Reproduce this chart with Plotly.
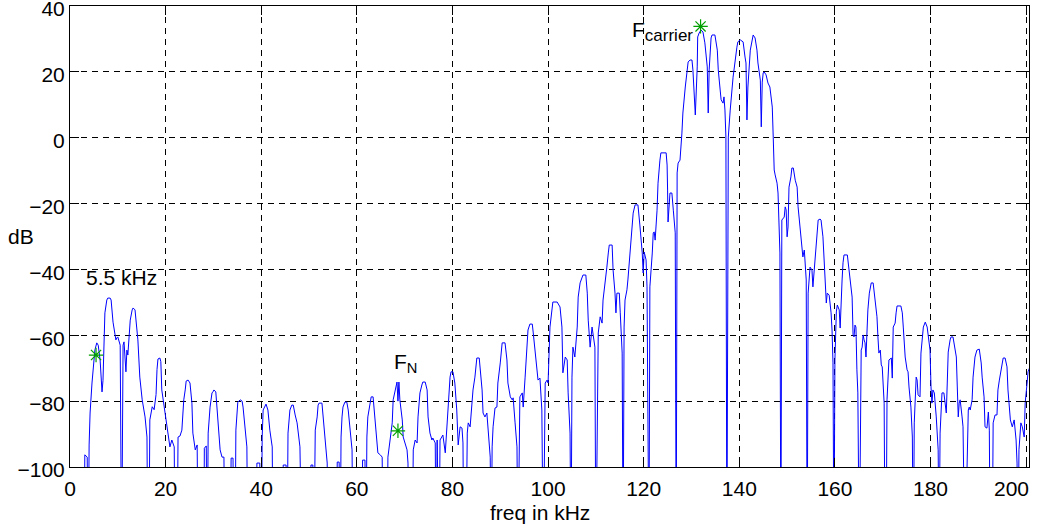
import plotly.graph_objects as go

# spectrum: (freq kHz, level dB); -130 = dip below the axis
low_band = [
    (2.9, -130), (3.1, -96.3), (3.6, -97.0), (3.7, -130), (3.8, -130), (4.0, -93.3), (4.2, -83.6),
    (4.6, -74.5), (5.0, -67.5), (5.2, -64.5), (5.6, -62.3), (5.9, -63.0), (6.3, -67.5), (6.7, -77.2),
    (6.9, -73.7), (7.1, -63.0), (7.3, -53.2), (7.7, -49.3), (7.9, -48.7), (8.4, -48.7), (8.6, -49.3),
    (9.0, -56.0), (9.4, -60.8), (9.6, -61.4), (9.8, -60.8), (10.0, -60.5), (10.5, -63.0), (10.8, -130),
    (11.1, -63.0), (11.3, -62.0), (11.7, -71.1), (11.9, -64.5), (12.1, -66.0), (12.6, -55.4),
    (13.0, -52.3), (13.2, -51.7), (13.6, -52.3), (13.8, -54.7), (14.2, -61.4), (14.6, -72.7),
    (15.1, -79.6), (15.7, -84.8), (16.1, -90.9), (16.3, -130), (16.5, -130), (16.7, -85.7),
    (17.2, -81.7), (17.6, -82.6), (18.0, -78.0), (18.2, -70.4), (18.4, -67.2), (18.8, -66.9),
    (19.0, -68.0), (19.2, -76.6), (19.7, -81.7), (20.1, -85.7), (20.5, -90.9), (20.9, -93.9),
    (21.3, -91.8), (21.8, -93.9), (22.0, -130), (22.4, -130), (22.6, -90.9), (23.0, -90.6),
    (23.4, -88.8), (23.8, -79.6), (24.1, -76.6), (24.3, -73.9), (24.7, -73.6), (25.1, -74.5),
    (25.5, -80.6), (25.7, -89.7), (26.2, -94.8), (26.6, -93.3), (26.8, -130),
]

mid_band = [
    (28.0, -130), (28.1, -94.3), (28.5, -93.6), (28.7, -130), (28.9, -89.7), (29.3, -81.8),
    (29.7, -77.5), (29.9, -77.2), (30.1, -76.6), (30.5, -77.2), (30.8, -82.7), (31.0, -88.8),
    (31.4, -94.8), (31.8, -97.0), (32.2, -97.0), (32.4, -130), (33.5, -130), (33.7, -97.3),
    (34.1, -97.3), (34.3, -130), (34.5, -130), (34.7, -88.8), (34.9, -84.8), (35.1, -80.3),
    (35.6, -79.6), (36.0, -80.0), (36.2, -81.8), (36.6, -88.8), (37.0, -93.9), (37.2, -130),
    (38.9, -130), (39.1, -98.8), (39.7, -98.8), (40.0, -130), (40.2, -90.9), (40.4, -82.7),
    (40.8, -81.2), (41.0, -80.9), (41.4, -82.7), (41.8, -88.8), (42.3, -93.9), (42.5, -130),
    (44.4, -130), (44.6, -99.4), (45.2, -99.4), (45.4, -130), (45.6, -89.7), (46.0, -82.7),
    (46.4, -81.2), (46.7, -81.2), (47.1, -84.2), (47.5, -86.6), (48.1, -93.9), (48.5, -130),
    (50.2, -130), (50.4, -99.4), (50.8, -99.4), (51.0, -130), (51.3, -88.8), (51.7, -84.8),
    (51.9, -81.2), (52.1, -80.6), (52.7, -80.6), (52.9, -83.6), (53.3, -91.8), (53.8, -98.8),
    (54.0, -130), (55.6, -130), (55.9, -98.5), (56.3, -98.5), (56.5, -130), (56.7, -90.9),
    (56.9, -84.8), (57.1, -81.8), (57.5, -80.3), (57.9, -80.3), (58.2, -82.7), (58.6, -89.7),
    (59.0, -94.8), (59.2, -130), (61.1, -130), (61.2, -97.9), (61.7, -97.9), (61.9, -130),
    (62.1, -90.9), (62.3, -84.8), (62.8, -81.2), (63.0, -78.7), (63.4, -78.7), (63.8, -84.8),
    (64.2, -90.9), (64.4, -95.7), (64.9, -96.3), (65.3, -97.0), (65.5, -130), (66.3, -130),
    (66.5, -97.0), (66.9, -92.7), (67.4, -86.6), (67.6, -79.6), (68.0, -76.6), (68.4, -74.2),
    (68.6, -80.0), (68.8, -74.2), (69.0, -79.6), (69.5, -85.7), (69.7, -90.9), (70.5, -94.8),
    (70.7, -98.8), (70.9, -130), (71.6, -130), (71.8, -94.8), (72.2, -91.8), (72.6, -92.7),
    (72.8, -84.8), (73.2, -77.5), (73.6, -75.1), (73.8, -74.2), (74.3, -74.2), (74.7, -76.6),
    (74.9, -84.8), (75.3, -89.7), (75.7, -91.8), (75.9, -91.2), (76.4, -92.7), (76.6, -130),
]

rise_band = [
    (76.8, -91.8), (77.0, -130), (77.2, -130), (77.4, -91.8), (78.0, -90.3), (78.5, -95.7),
    (78.9, -86.6), (79.1, -78.7), (79.5, -72.7), (79.7, -71.1), (80.1, -71.1), (80.5, -74.5),
    (80.9, -82.7), (81.2, -93.3), (81.6, -87.8), (82.0, -88.2), (82.2, -92.7), (82.4, -130),
    (82.8, -130), (83.1, -89.7), (83.3, -86.6), (83.7, -87.8), (84.1, -79.6), (84.3, -76.6),
    (84.7, -72.7), (85.1, -66.9), (85.6, -66.9), (85.8, -70.5), (86.2, -76.6), (86.4, -83.6),
    (86.8, -84.8), (87.2, -83.6), (87.4, -87.8), (87.9, -97.0), (88.1, -130), (88.3, -93.9),
    (88.5, -87.8), (88.9, -82.1), (89.3, -81.8), (89.5, -74.5), (90.0, -68.4), (90.4, -62.3),
    (91.0, -62.3), (91.4, -67.5), (91.6, -74.5), (92.1, -78.7), (92.5, -79.6), (92.7, -79.0),
    (93.1, -86.6), (93.5, -93.9), (93.7, -130), (94.1, -78.7), (94.6, -77.5), (94.8, -81.8),
    (95.2, -72.7), (95.6, -63.6), (95.8, -58.4), (96.2, -56.6), (96.7, -56.6), (96.9, -59.3),
    (97.3, -65.4), (97.7, -72.7), (97.9, -73.6), (98.3, -73.0), (98.7, -82.7), (99.0, -130),
    (99.4, -74.5), (99.8, -73.6), (100.0, -74.5), (100.4, -57.5), (100.8, -53.2), (101.0, -49.9),
    (101.9, -49.9), (102.5, -51.4), (102.9, -57.5), (103.1, -71.4), (103.6, -66.6), (104.0, -67.5),
    (104.2, -77.5), (104.6, -89.7), (104.8, -130), (105.0, -72.7), (105.2, -63.6), (105.6, -66.6),
    (106.1, -57.5), (106.3, -48.4), (106.7, -44.1), (107.1, -42.3), (107.3, -41.7), (107.9, -41.7),
    (108.2, -47.2), (108.4, -55.4), (108.8, -63.6), (109.2, -57.5), (109.4, -59.3), (109.8, -63.6),
    (110.0, -130), (110.3, -68.4), (110.5, -59.3), (110.9, -54.4), (111.3, -56.3), (111.5, -49.3),
    (111.9, -43.2), (112.3, -39.3), (112.6, -35.0), (112.8, -32.6), (113.4, -32.6), (113.6, -40.2),
    (114.0, -47.2), (114.2, -53.2), (114.4, -47.2), (114.9, -47.2), (115.1, -53.2), (115.5, -65.4),
    (115.7, -130), (115.9, -57.5), (116.1, -49.3), (116.5, -46.2), (116.7, -43.2), (117.2, -34.1),
    (117.6, -25.9), (117.8, -22.9), (118.2, -20.4), (118.8, -20.4), (119.2, -26.5), (119.7, -35.0),
    (119.9, -41.1), (120.1, -34.7), (120.5, -37.1), (120.7, -45.3), (121.1, -130), (121.3, -45.3),
    (121.8, -35.0), (122.0, -28.9), (122.2, -28.6), (122.4, -31.1), (122.8, -22.0), (123.0, -13.8),
    (123.4, -6.8), (123.6, -4.6), (124.7, -4.6), (124.9, -8.3), (125.0, -15.9), (125.1, -25.6),
    (125.5, -16.8), (125.9, -16.8), (126.2, -22.0), (126.6, -28.9), (126.8, -130),
]

carrier_band = [
    (127.0, -10.7), (127.2, -7.7), (127.6, -6.8), (128.0, 1.4), (128.2, 7.5), (128.7, 15.4),
    (129.1, 20.6), (129.3, 23.0), (129.7, 23.6), (130.1, 23.6), (130.3, 20.6), (130.5, 14.5),
    (130.8, 6.9), (131.2, 21.5), (131.3, 30.6), (131.6, 31.8), (132.0, 32.7), (132.4, 32.1),
    (132.8, 28.8), (133.3, 21.5), (133.5, 7.5), (133.7, 20.6), (134.1, 30.3), (134.3, 31.2),
    (134.9, 31.2), (135.4, 26.6), (135.6, 20.6), (136.0, 14.5), (136.2, 11.5), (136.6, 10.5),
    (136.8, 12.4), (137.0, 8.4), (137.2, 0.2), (137.4, -130), (137.7, 0.2), (138.1, 8.4),
    (138.5, 16.6), (138.7, 18.4), (139.5, 27.5), (139.7, 29.1), (140.2, 29.7), (140.8, 29.1),
    (141.2, 24.5), (141.4, 22.7), (141.6, 5.4), (141.8, 15.4), (142.3, 26.6), (142.7, 30.3),
    (142.9, 31.2), (143.3, 30.3), (143.7, 26.6), (143.9, 22.7), (144.1, 19.7), (144.4, 17.5),
    (144.6, 3.3), (144.8, 16.9), (145.0, 19.7), (145.2, 20.0), (145.6, 19.1), (146.0, 16.6),
    (146.4, 15.4), (146.9, 9.3), (147.1, 0.2), (147.3, -9.8), (147.5, -11.3), (147.9, -13.8),
    (148.1, -16.8), (148.3, -28.0), (148.5, -35.0), (148.7, -130), (148.9, -25.0), (149.4, -24.1),
    (149.6, -21.0), (149.8, -21.9), (150.0, -30.1), (150.2, -27.1), (150.4, -15.0), (150.8, -11.9),
    (151.0, -9.2), (151.3, -9.2), (151.7, -12.9), (152.1, -15.0), (152.3, -21.0), (152.7, -27.1),
    (153.1, -34.1), (153.3, -36.2), (153.6, -34.1), (153.8, -41.1), (154.0, -43.2), (154.2, -130),
]

fall_band = [
    (154.4, -47.2), (154.8, -39.3), (155.2, -40.2), (155.4, -45.3), (155.9, -35.0), (156.3, -28.9),
    (156.5, -25.0), (156.9, -24.7), (157.1, -25.0), (157.5, -30.1), (157.7, -35.0), (157.9, -40.2),
    (158.2, -50.2), (158.4, -47.2), (158.8, -47.8), (159.2, -53.2), (159.4, -58.4), (159.6, -68.4),
    (159.8, -130), (160.0, -67.5), (160.3, -52.9), (160.5, -50.8), (160.9, -52.3), (161.1, -57.8),
    (161.3, -48.4), (161.5, -43.2), (161.7, -38.0), (161.9, -35.6), (162.6, -35.6), (163.0, -40.2),
    (163.4, -46.2), (163.6, -48.4), (163.8, -59.9), (164.0, -60.5), (164.2, -56.9), (164.4, -57.5),
    (164.6, -70.5), (164.8, -77.5), (165.1, -130), (165.5, -64.5), (165.7, -63.6), (165.9, -59.9),
    (166.1, -61.4), (166.3, -62.3), (166.5, -66.6), (166.7, -57.5), (166.9, -52.3), (167.2, -47.2),
    (167.6, -44.1), (168.0, -44.1), (168.4, -48.4), (168.8, -54.4), (169.0, -60.5), (169.2, -65.4),
    (169.5, -64.5), (169.7, -69.0), (169.9, -69.6), (170.1, -76.6), (170.3, -80.6), (170.5, -130),
    (170.7, -130), (170.9, -79.6), (171.1, -74.5), (171.3, -67.5), (171.8, -66.9), (172.0, -73.0),
    (172.2, -57.5), (172.6, -56.3), (172.8, -53.2), (173.0, -51.1), (173.8, -51.1), (174.1, -53.2),
    (174.3, -57.5), (174.5, -61.4), (174.7, -66.6), (175.1, -70.5), (175.3, -71.1), (175.5, -75.7),
    (175.9, -81.8), (176.2, -90.9), (176.4, -130), (176.6, -86.6), (176.8, -75.7), (177.0, -72.7),
    (177.2, -73.6), (177.4, -78.1), (177.8, -78.7), (178.0, -65.4), (178.5, -57.5), (178.7, -56.3),
    (178.9, -56.0), (179.3, -57.5), (179.5, -60.5), (179.9, -64.5), (180.1, -75.7), (180.3, -80.6),
    (180.5, -76.6), (180.8, -77.5), (181.2, -84.8), (181.6, -94.8), (181.8, -130), (182.0, -89.7),
    (182.2, -83.6), (182.4, -77.5), (182.8, -77.5), (183.3, -83.6), (183.5, -74.5), (183.7, -65.1),
    (184.1, -61.4), (184.3, -60.5), (184.7, -60.5), (184.9, -62.0), (185.4, -66.6), (185.6, -75.7),
    (185.8, -84.8), (186.0, -80.6), (186.2, -79.6), (186.6, -84.8), (186.8, -87.8), (187.2, -130),
    (187.7, -91.8), (187.9, -82.7), (188.1, -81.8), (188.3, -82.7), (188.7, -79.6), (188.9, -72.7),
    (189.3, -66.6), (189.7, -64.5), (190.2, -64.2), (190.6, -68.4), (190.8, -72.7), (191.2, -78.7),
    (191.4, -87.8), (191.8, -88.2), (192.1, -83.3), (192.3, -88.8), (192.5, -130), (192.9, -130),
    (193.1, -86.6), (193.5, -84.2), (193.9, -84.2), (194.1, -76.6), (194.4, -73.6), (194.8, -69.9),
    (195.2, -66.9), (195.6, -66.9), (196.0, -69.6), (196.2, -76.6), (196.7, -85.7), (197.1, -87.8),
    (197.3, -86.6), (197.5, -85.7), (197.9, -91.8), (198.1, -98.8), (198.3, -130), (198.5, -94.8),
    (198.9, -86.6), (199.2, -87.8), (199.6, -90.9), (199.8, -80.6), (200.2, -74.5), (200.4, -71.1),
    (200.8, -69.6),
]

# marked points (green stars)
mark_freq = [5.45, 68.6, 131.9]
mark_db = [-66.0, -89.0, 33.8]

x_ticks = [0, 20, 40, 60, 80, 100, 120, 140, 160, 180, 200]
# last label is drawn separately so it stays inside the page, as in the original
x_labels = ["0", "20", "40", "60", "80", "100", "120", "140", "160", "180", ""]
y_ticks = [-100, -80, -60, -40, -20, 0, 20, 40]

spectrum = low_band + mid_band + rise_band + carrier_band + fall_band
freq = [p[0] for p in spectrum]
level = [p[1] for p in spectrum]

FONT = "Liberation Sans, Arial, Helvetica, sans-serif"

fig = go.Figure()
fig.add_trace(go.Scatter(x=freq, y=level, mode="lines",
                         line=dict(color="#0000ff", width=1), hoverinfo="skip"))
fig.add_trace(go.Scatter(x=mark_freq, y=mark_db, mode="markers",
                         marker=dict(symbol="asterisk-open", size=12, color="#00a000",
                                     line=dict(color="#00a000", width=1.2))))

axis_style = dict(
    showline=True, linecolor="black", linewidth=1, mirror="ticks",
    ticks="inside", ticklen=9, tickcolor="black", tickwidth=1,
    showgrid=True, gridcolor="black", gridwidth=0.8, griddash="6px,5px",
    zeroline=False, automargin=False, ticklabeloverflow="allow",
    tickfont=dict(family=FONT, size=21, color="black"),
)
fig.update_xaxes(range=[0, 200.6], tickvals=x_ticks, ticktext=x_labels,
                 ticklabelstandoff=3, **axis_style)
fig.update_yaxes(range=[-100, 40], tickvals=y_ticks, ticklabelshift=3, **axis_style)

text_font = dict(family=FONT, size=21, color="black")
fig.add_annotation(xref="paper", yref="paper", x=1.002, y=-0.047, text="200",
                   showarrow=False, xanchor="right", yanchor="middle", font=text_font)
fig.add_annotation(x=3.0, y=-42.6, text="5.5 kHz", showarrow=False,
                   xanchor="left", yanchor="middle", font=text_font)
fig.add_annotation(x=67.4, y=-68.4, text="F<sub>N</sub>", showarrow=False,
                   xanchor="left", yanchor="middle", font=text_font)
fig.add_annotation(x=117.2, y=32.4,
                   text="F<sub><span style='font-size:17px'>carrier</span></sub>",
                   showarrow=False, xanchor="left", yanchor="middle", font=text_font)
fig.add_annotation(xref="paper", yref="paper", x=0.4906, y=-0.098, text="freq in kHz",
                   showarrow=False, xanchor="center", yanchor="middle", font=text_font)
fig.add_annotation(xref="paper", yref="paper", x=-0.051, y=0.5, text="dB",
                   showarrow=False, xanchor="center", yanchor="middle", font=text_font)

fig.update_layout(
    width=1040, height=529,
    margin=dict(l=70, r=11, t=6, b=62),
    plot_bgcolor="white", paper_bgcolor="white",
    showlegend=False,
)

# drop the default page margin so the figure sits at the window's corner
fig.write_html("out.html", config={"displayModeBar": False},
               post_script="document.body.style.margin = '0';")
